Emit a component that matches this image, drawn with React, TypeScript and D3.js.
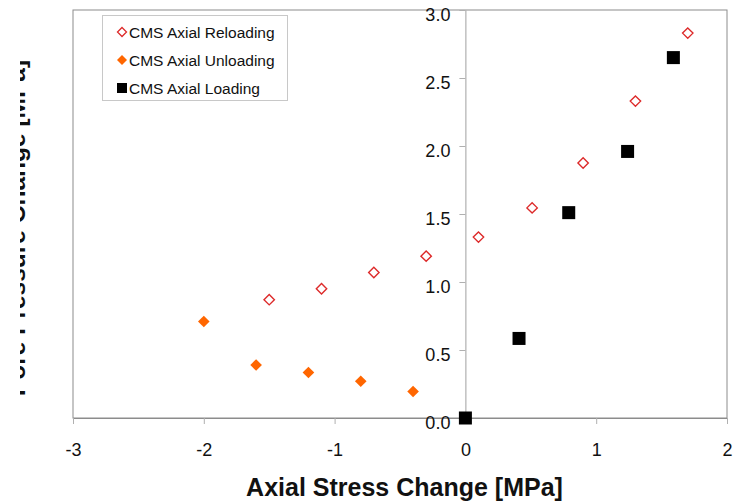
import React, { useEffect, useRef } from 'react';
import * as d3 from 'd3';

// CMS axial test data
const reloadX = [-1.5, -1.1, -0.7, -0.3, 0.1, 0.51, 0.9, 1.3, 1.7];
const reloadY = [0.87, 0.95, 1.07, 1.19, 1.33, 1.545, 1.875, 2.33, 2.83];
const unloadX = [-2.0, -1.6, -1.2, -0.8, -0.4];
const unloadY = [0.71, 0.39, 0.335, 0.27, 0.195];
const loadX = [0, 0.41, 0.79, 1.24, 1.59];
const loadY = [0, 0.585, 1.51, 1.96, 2.65];
const xTicks = [-3, -2, -1, 0, 1, 2];
const yTicks = [0, 0.5, 1, 1.5, 2, 2.5, 3];
const legendLabels = ['CMS Axial Reloading', 'CMS Axial Unloading', 'CMS Axial Loading'];

const App = () => {
    const ref = useRef<SVGSVGElement>(null);

    useEffect(() => {
        const width = 742;
        const height = 502;
        const plot = { left: 73, right: 727, top: 10, bottom: 418 };
        const font = '"Liberation Sans", Arial, sans-serif';

        const svg = d3.select(ref.current);
        svg.selectAll('*').remove();
        svg.attr('width', width).attr('height', height);

        const x = d3.scaleLinear().domain([-3, 2]).range([plot.left, plot.right]);
        const y = d3.scaleLinear().domain([0, 3]).range([plot.bottom, plot.top]);

        svg.append('rect')
            .attr('width', width).attr('height', height).attr('fill', '#fff');

        // frame
        svg.append('rect')
            .attr('x', plot.left).attr('y', plot.top)
            .attr('width', plot.right - plot.left).attr('height', plot.bottom - plot.top)
            .attr('fill', 'none').attr('stroke', '#8c8c8c').attr('stroke-width', 1);

        // bottom axis
        const xAxis = svg.append('g')
            .attr('transform', `translate(0,${plot.bottom})`)
            .call(d3.axisBottom(x).tickValues(xTicks).tickSize(6).tickSizeOuter(0).tickFormat(d3.format('d')));
        xAxis.select('.domain').attr('stroke', '#8c8c8c');
        xAxis.selectAll('line').attr('stroke', '#b0b0b0');
        xAxis.selectAll('text')
            .attr('font-family', font).attr('font-size', 18).attr('fill', '#111')
            .attr('dy', null).attr('y', 38)
            .text(d => (d as number) < 0 ? '-' + Math.abs(d as number) : String(d));

        // y axis at x = 0
        const yAxis = svg.append('g')
            .attr('transform', `translate(${x(0)},0)`)
            .call(d3.axisLeft(y).tickValues(yTicks).tickSize(6).tickSizeOuter(0).tickFormat(d3.format('.1f')));
        yAxis.select('.domain').attr('stroke', '#a0a0a0');
        yAxis.selectAll('line').attr('stroke', '#b0b0b0');
        yAxis.selectAll('text')
            .attr('font-family', font).attr('font-size', 18).attr('fill', '#111')
            .attr('x', -15).attr('y', 4).attr('dy', '0.36em');

        const diamond = (r: number) => `M0,${-r}L${r},0L0,${r}L${-r},0Z`;

        // reloading: open red diamonds
        svg.append('g').selectAll('path')
            .data(reloadX)
            .join('path')
            .attr('d', diamond(5.2))
            .attr('transform', (d, i) => `translate(${x(d)},${y(reloadY[i])})`)
            .attr('fill', '#fff').attr('stroke', '#dd2a2a').attr('stroke-width', 1.4);

        // unloading: filled orange diamonds
        svg.append('g').selectAll('path')
            .data(unloadX)
            .join('path')
            .attr('d', diamond(5.8))
            .attr('transform', (d, i) => `translate(${x(d)},${y(unloadY[i])})`)
            .attr('fill', '#ff6600');

        // loading: black squares
        svg.append('g').selectAll('rect')
            .data(loadX)
            .join('rect')
            .attr('x', d => x(d) - 6.5)
            .attr('y', (d, i) => y(loadY[i]) - 6.5)
            .attr('width', 13).attr('height', 13)
            .attr('fill', '#000');

        // legend
        const legend = svg.append('g').attr('transform', 'translate(102,15)');
        legend.append('rect')
            .attr('x', 0.5).attr('y', 0.5).attr('width', 185).attr('height', 85)
            .attr('fill', '#fff').attr('stroke', '#c8c8c8');
        const rows = legend.selectAll('g.row')
            .data(legendLabels)
            .join('g')
            .attr('class', 'row')
            .attr('transform', (d, i) => `translate(20,${17 + i * 28})`);
        rows.append('text')
            .attr('x', 7).attr('dy', '0.36em')
            .attr('font-family', font).attr('font-size', 15.5).attr('fill', '#111')
            .text(d => d);
        rows.filter((d, i) => i === 0).append('path')
            .attr('d', diamond(4.5)).attr('fill', '#fff').attr('stroke', '#dd2a2a').attr('stroke-width', 1.3);
        rows.filter((d, i) => i === 1).append('path')
            .attr('d', diamond(5)).attr('fill', '#ff6600');
        rows.filter((d, i) => i === 2).append('rect')
            .attr('x', -5).attr('y', -5).attr('width', 10).attr('height', 10).attr('fill', '#000');

        // axis titles
        svg.append('text')
            .attr('x', 404.5).attr('y', 496)
            .attr('text-anchor', 'middle')
            .attr('font-family', font).attr('font-size', 25).attr('font-weight', 'bold').attr('fill', '#111')
            .text('Axial Stress Change [MPa]');

        // y title is cut off on its left side in the original
        svg.append('clipPath').attr('id', 'ytitle-clip')
            .append('rect').attr('x', 20).attr('y', 0).attr('width', 40).attr('height', height);
        svg.append('g')
            .attr('clip-path', 'url(#ytitle-clip)')
            .append('text')
            .attr('transform', 'translate(25,228) rotate(-90)')
            .attr('text-anchor', 'middle')
            .attr('font-family', font).attr('font-size', 24.5).attr('font-weight', 'bold').attr('fill', '#111')
            .text('Pore Pressure Change [MPa]');
    }, []);

    return (
        <svg ref={ref} style={{ position: 'absolute', left: 0, top: 0, display: 'block' }} />
    );
};

export default App;
